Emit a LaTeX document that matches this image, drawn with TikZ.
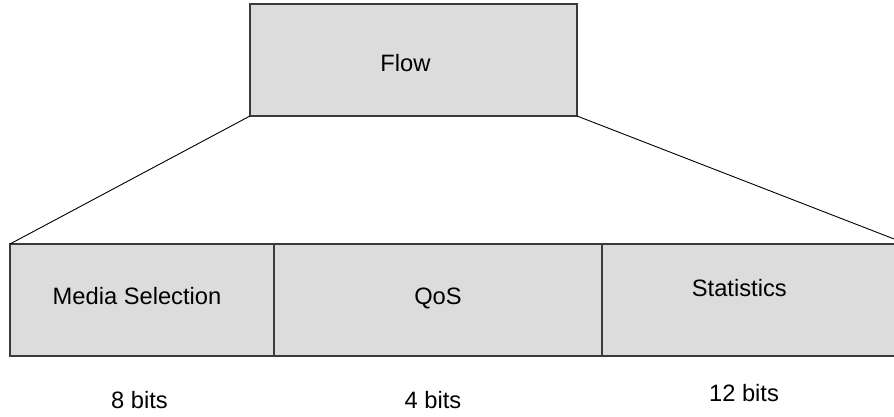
\documentclass[tikz,border=0pt]{standalone}
\usepackage{fontspec}
\setmainfont{Liberation Sans}
\definecolor{boxfill}{HTML}{DCDCDC}
\definecolor{boxline}{HTML}{3A3A3A}
\begin{document}
\begin{tikzpicture}[x=1pt,y=-1pt,
  field/.style={draw=boxline,fill=boxfill,line width=1.3pt,inner sep=0pt,outer sep=0pt,anchor=north west},
  lbl/.style={anchor=base,inner sep=0pt,font=\fontsize{23.7}{28}\selectfont},
  fan/.style={draw=black,line width=0.9pt}]
\useasboundingbox (0,0) rectangle (894,417);
\clip (0,0) rectangle (894,417);
\node[field,minimum width=327pt,minimum height=112pt] (flow) at (250,4) {};
\node[field,minimum width=264pt,minimum height=112pt] (media) at (10,244) {};
\node[field,minimum width=328pt,minimum height=112pt] (qos) at (274,244) {};
\node[field,minimum width=305pt,minimum height=112pt] (stats) at (602,244) {};
\draw[fan] (flow.south west) -- (media.north west);
\draw[fan] (flow.south east) -- (stats.north east);
\node[lbl] (tflow) at (405.5,72) {Flow};
\node[lbl] (tmedia) at (137,304) {Media Selection};
\node[lbl] (tqos) at (438,304) {QoS};
\node[lbl] (tstats) at (739.3,296) {Statistics};
\node[lbl] (b8) at (139.5,408) {8 bits};
\node[lbl] (b4) at (433,408) {4 bits};
\node[lbl] (b12) at (744,401) {12 bits};
\end{tikzpicture}
\end{document}
